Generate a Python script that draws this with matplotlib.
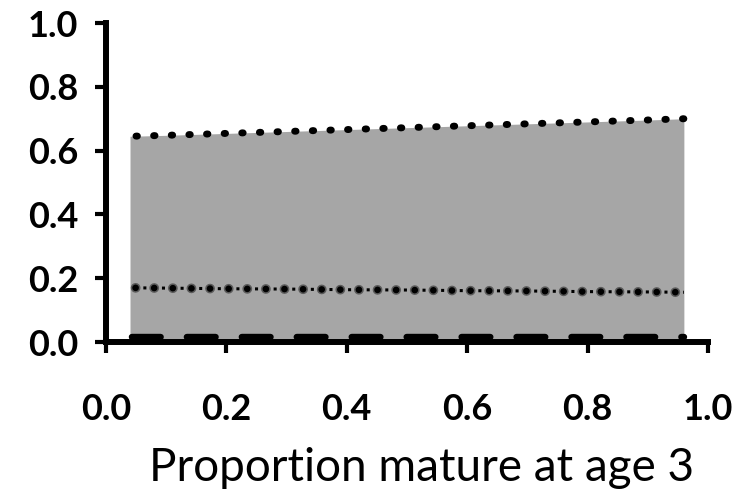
import matplotlib
matplotlib.use("Agg")
import matplotlib.pyplot as plt

# Proportion mature at age 3 (x) and the three summary curves
prop_mature = [0.04, 0.10, 0.20, 0.30, 0.40, 0.50, 0.60, 0.70, 0.80, 0.90, 0.96]
upper_vals = [0.645, 0.648, 0.654, 0.660, 0.666, 0.672, 0.678, 0.684, 0.690, 0.696, 0.700]
middle_vals = [0.170, 0.169, 0.167, 0.166, 0.164, 0.163, 0.161, 0.160, 0.158, 0.157, 0.156]
lower_vals = [0.016, 0.016, 0.016, 0.016, 0.016, 0.016, 0.016, 0.016, 0.016, 0.016, 0.016]

ticks = [0.0, 0.2, 0.4, 0.6, 0.8, 1.0]
tick_labels = ["0.0", "0.2", "0.4", "0.6", "0.8", "1.0"]

plt.rcParams["font.family"] = ["Lato", "DejaVu Sans"]

fig = plt.figure(figsize=(7.46, 4.90), dpi=100)
ax = fig.add_axes([0.142, 0.302, 0.807, 0.651])

# shaded envelope
ax.fill_between(prop_mature, 0, upper_vals, color="#a6a6a6", lw=0, zorder=1)

# upper bound: round dots
lw_up = 5.0
ax.plot(prop_mature, upper_vals, color="black", lw=lw_up,
        linestyle=(-4.3 / lw_up, (0.2, 12.7 / lw_up - 0.2)),
        dash_capstyle="round", zorder=3)

# middle curve: haloed dots with small dashes between
period = 13.4
for lw_m, col in ((7.0, "#5a5a5a"), (4.8, "black")):
    ax.plot(prop_mature, middle_vals, color=col, lw=lw_m,
            linestyle=(-4.0 / lw_m, (0.01, period / lw_m - 0.01)),
            dash_capstyle="round", zorder=3)
lw_t = 2.2
ax.plot(prop_mature, middle_vals, color="black", lw=lw_t,
        linestyle=((-4.0 - period / 2 + 1.1) / lw_t, (1.0, period / lw_t - 1.0)),
        dash_capstyle="butt", zorder=3)

# lower curve: long dashes
ax.plot(prop_mature, lower_vals, color="black", lw=4.6,
        linestyle=(-0.3, (4.5, 4.1)), dash_capstyle="round", zorder=3)

ax.set_xlim(0, 1)
ax.set_ylim(0, 1)

for side in ("top", "right"):
    ax.spines[side].set_visible(False)
for side in ("left", "bottom"):
    ax.spines[side].set_linewidth(4.3)
    ax.spines[side].set_color("black")
    ax.spines[side].set_zorder(4)

ax.set_xticks(ticks)
ax.set_xticklabels(tick_labels)
ax.set_yticks(ticks)
ax.set_yticklabels(tick_labels)
ax.tick_params(axis="both", direction="out", length=8, width=3, color="black",
               labelsize=26)
ax.tick_params(axis="y", pad=12)
ax.tick_params(axis="x", pad=29)
for lbl in ax.get_xticklabels() + ax.get_yticklabels():
    lbl.set_fontweight("bold")

ax.set_xlabel("Proportion mature at age 3", fontsize=33, va="center")
ax.xaxis.set_label_coords((422 - 106) / 602, (342 - 468) / 319)

fig.savefig("out.png", dpi=100)
